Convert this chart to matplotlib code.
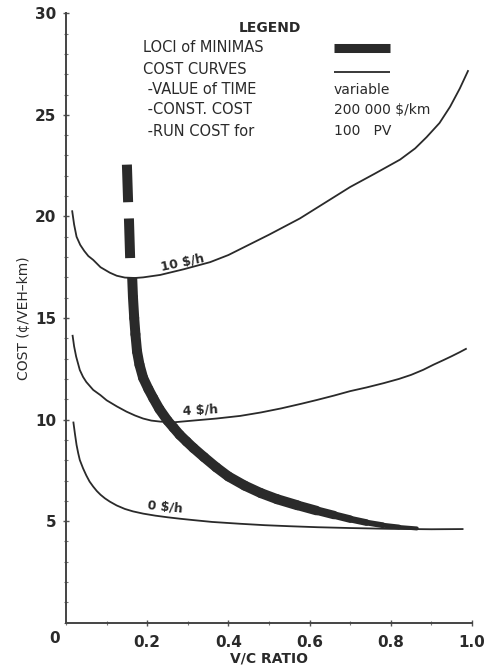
import matplotlib
matplotlib.use("Agg")
import matplotlib.pyplot as plt
import numpy as np
from matplotlib.ticker import MultipleLocator, FixedLocator

# ---- data ----
x_10 = [0.015, 0.02, 0.026, 0.035, 0.045, 0.055, 0.067, 0.085, 0.108, 0.125, 0.145, 0.17, 0.19,
        0.232, 0.29, 0.355, 0.40, 0.44, 0.50, 0.576, 0.64, 0.70, 0.76, 0.823, 0.86, 0.888,
        0.92, 0.946, 0.97, 0.991]
y_10 = [20.3, 19.6, 19.0, 18.6, 18.3, 18.05, 17.86, 17.5, 17.23, 17.08, 16.99, 16.97, 17.0,
        17.12, 17.4, 17.75, 18.1, 18.5, 19.1, 19.9, 20.7, 21.45, 22.1, 22.8, 23.35, 23.9,
        24.6, 25.4, 26.3, 27.2]

x_4 = [0.016, 0.02, 0.025, 0.034, 0.042, 0.05, 0.067, 0.085, 0.10, 0.125, 0.149, 0.17, 0.19,
       0.21, 0.232, 0.268, 0.313, 0.37, 0.429, 0.48, 0.53, 0.58, 0.617, 0.66, 0.70, 0.74,
       0.782, 0.82, 0.85, 0.88, 0.905, 0.93, 0.95, 0.97, 0.987]
y_4 = [14.17, 13.6, 13.1, 12.44, 12.1, 11.85, 11.46, 11.2, 10.95, 10.65, 10.39, 10.2, 10.05,
       9.95, 9.9, 9.87, 9.95, 10.05, 10.18, 10.35, 10.55, 10.78, 10.96, 11.18, 11.4, 11.58,
       11.79, 12.0, 12.2, 12.45, 12.7, 12.93, 13.12, 13.32, 13.5]

x_0 = [0.018, 0.022, 0.026, 0.030, 0.034, 0.042, 0.05, 0.058, 0.067, 0.076, 0.085, 0.096,
       0.108, 0.125, 0.145, 0.165, 0.19, 0.22, 0.25, 0.28, 0.314, 0.36, 0.429, 0.49, 0.55,
       0.62, 0.70, 0.80, 0.90, 0.979]
y_0 = [9.9, 9.3, 8.75, 8.35, 8.01, 7.6, 7.25, 6.95, 6.70, 6.48, 6.3, 6.12, 5.96, 5.77, 5.6,
       5.48, 5.37, 5.27, 5.19, 5.12, 5.05, 4.96, 4.87, 4.8, 4.75, 4.7, 4.66, 4.62, 4.6, 4.61]

loci_x = [0.163, 0.165, 0.168, 0.171, 0.175, 0.181, 0.19, 0.203, 0.215, 0.23, 0.25, 0.265,
          0.28, 0.297, 0.314, 0.34, 0.37, 0.40, 0.44, 0.48, 0.52, 0.57, 0.617, 0.66, 0.70,
          0.74, 0.78, 0.82, 0.864]
loci_y = [17.0, 16.0, 15.0, 14.2, 13.35, 12.7, 12.05, 11.5, 11.05, 10.52, 9.95, 9.6, 9.25,
          8.92, 8.6, 8.15, 7.65, 7.2, 6.75, 6.38, 6.08, 5.78, 5.52, 5.3, 5.1, 4.93, 4.8,
          4.71, 4.64]

dash1_x = [0.150, 0.153]
dash1_y = [22.55, 20.7]
dash2_x = [0.155, 0.158]
dash2_y = [19.9, 17.95]

curve_labels = ["10 $/h", "4 $/h", "0 $/h"]
x_ticks = [0.2, 0.4, 0.6, 0.8, 1.0]
x_ticklabels = ["0.2", "0.4", "0.6", "0.8", "1.0"]
y_ticks = [5, 10, 15, 20, 25, 30]
y_ticklabels = ["5", "10", "15", "20", "25", "30"]

legend_left = ["LOCI of MINIMAS", "COST CURVES", " -VALUE of TIME", " -CONST. COST", " -RUN COST for"]
legend_right = ["variable", "200 000 $/km", "100   PV"]

# ---- figure ----
plt.rcParams['font.family'] = ['DejaVu Sans']
ink = "#2a2a2a"
fig = plt.figure(figsize=(4.86, 6.66), dpi=100)
ax = fig.add_axes([66/486, 1 - 622.7/666, (472-66)/486, (622.7-13.3)/666])
ax.set_xlim(0, 1.0)
ax.set_ylim(0, 30)

for s in ["top", "right"]:
    ax.spines[s].set_visible(False)
for s in ["left", "bottom"]:
    ax.spines[s].set_linewidth(1.4)
    ax.spines[s].set_color("#444444")

ax.xaxis.set_major_locator(FixedLocator(x_ticks))
ax.set_xticklabels(x_ticklabels)
ax.xaxis.set_minor_locator(MultipleLocator(0.1))
ax.yaxis.set_major_locator(FixedLocator(y_ticks))
ax.set_yticklabels(y_ticklabels)
ax.yaxis.set_minor_locator(MultipleLocator(1))
ax.tick_params(which="major", direction="inout", length=4, width=1.0, color="#555555",
               labelsize=11, labelcolor=ink, pad=5)
ax.tick_params(which="minor", direction="inout", length=3, width=0.8, color="#777777")
for lab in ax.get_xticklabels() + ax.get_yticklabels():
    lab.set_fontweight("bold")
ax.tick_params(axis="x", which="major", pad=7)

ax.annotate("0", xy=(0, 0), xytext=(-11, -16), textcoords="offset pixels",
            ha="center", va="center", fontsize=11, fontweight="bold", color=ink)

ax.set_xlabel("V/C RATIO", fontsize=10, fontweight="bold", color=ink, labelpad=1)
ax.set_ylabel("COST (\u00a2/VEH\u2013km)", fontsize=10, color=ink, labelpad=3)

# cost curves
for xs, ys in [(x_10, y_10), (x_4, y_4), (x_0, y_0)]:
    ax.plot(xs, ys, color=ink, lw=1.3, solid_joinstyle="round", solid_capstyle="butt")

# loci of minimas (thick band, tapering near its end)
n = len(loci_x)
widths = [7.2 if loci_x[i] < 0.55 else 7.2 - (loci_x[i] - 0.55) / (0.864 - 0.55) * 5.0
          for i in range(n - 1)]
for i in range(n - 1):
    ax.plot(loci_x[i:i+2], loci_y[i:i+2], color=ink, lw=widths[i],
            solid_capstyle="butt" if i == 0 else "round")
for dx, dy in [(dash1_x, dash1_y), (dash2_x, dash2_y)]:
    ax.plot(dx, dy, color=ink, lw=7.2, solid_capstyle="butt")

# curve labels
ax.text(0.288, 17.75, curve_labels[0], fontsize=9, fontweight="bold", color=ink,
        rotation=12, ha="center", va="center")
ax.text(0.33, 10.45, curve_labels[1], fontsize=9, fontweight="bold", color=ink,
        rotation=3, ha="center", va="center")
ax.text(0.244, 5.7, curve_labels[2], fontsize=9, fontweight="bold", color=ink,
        rotation=-6, ha="center", va="center")

# legend block (in pixel-based figure coords)
def fx(px):
    return px / 486
def fy(py):
    return 1 - py / 666

fig.text(fx(270), fy(28), "LEGEND", fontsize=10, fontweight="bold", color=ink,
         ha="center", va="center")
left_y = [48, 69, 90, 110, 131]
for t, yy in zip(legend_left, left_y):
    fig.text(fx(143), fy(yy), t, fontsize=10.5, color=ink, ha="left", va="center")
right_y = [90, 110, 131]
for t, yy in zip(legend_right, right_y):
    fig.text(fx(334), fy(yy), t, fontsize=10, color=ink, ha="left", va="center")
fig.add_artist(plt.Line2D([fx(334), fx(390)], [fy(48), fy(48)], color=ink, lw=6.5,
                          solid_capstyle="butt"))
fig.add_artist(plt.Line2D([fx(334), fx(390)], [fy(71.5), fy(71.5)], color=ink, lw=1.3,
                          solid_capstyle="butt"))

fig.savefig("out.png", dpi=100)
